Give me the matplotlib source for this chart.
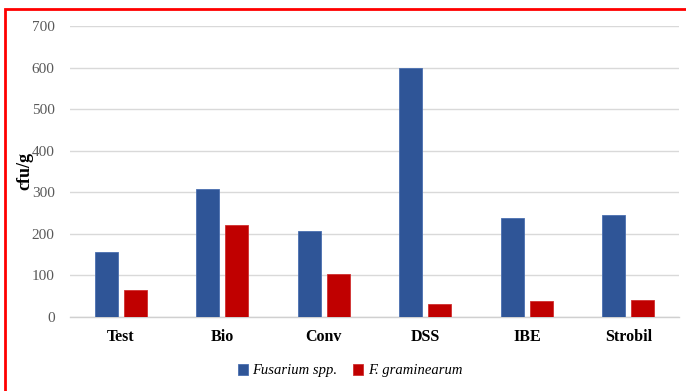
import numpy as np
import matplotlib
matplotlib.use("Agg")
import matplotlib.pyplot as plt
from matplotlib.patches import Rectangle

categories = ["Test", "Bio", "Conv", "DSS", "IBE", "Strobil"]
fusarium_spp = [157, 308, 206, 600, 238, 246]
f_graminearum = [64, 222, 103, 30, 38, 40]

plt.rcParams['font.family'] = ['Liberation Serif', 'DejaVu Serif']

fig = plt.figure(figsize=(6.86, 3.91), dpi=100)
ax = fig.add_axes([0.102, 0.19, 0.888, 0.7435])

x = np.arange(len(categories))
w = 0.227
off = 0.143
ax.bar(x - off, fusarium_spp, w, color="#2F5597", edgecolor="#4a6fb0",
       linewidth=0.6, label="Fusarium spp.", zorder=3)
ax.bar(x + off, f_graminearum, w, color="#C00000", edgecolor="#d03030",
       linewidth=0.6, label="F. graminearum", zorder=3)

ax.set_xlim(-0.5, len(categories) - 0.5)
ax.set_ylim(0, 700)
ax.set_yticks(range(0, 701, 100))
ax.grid(axis="y", color="#d9d9d9", linewidth=1.0, zorder=0)
for s in ["top", "right", "left"]:
    ax.spines[s].set_visible(False)
ax.spines["bottom"].set_color("#d0d0d0")
ax.spines["bottom"].set_linewidth(1.0)
ax.tick_params(length=0)
ax.tick_params(axis="y", labelsize=11, labelcolor="#595959", pad=11)
ax.set_xticks(x)
ax.set_xticklabels(categories, fontsize=11.5, fontweight="bold")
ax.tick_params(axis="x", pad=9)
ax.set_ylabel("cfu/g", fontsize=13, fontweight="bold")
ax.yaxis.set_label_coords(-0.06, 0.5)

leg = fig.legend(loc="center", bbox_to_anchor=(0.51, 0.052), ncol=2, frameon=False,
                 prop={"size": 10.5, "style": "italic"}, handlelength=0.7,
                 handleheight=0.75, handletextpad=0.3, columnspacing=1.1)

# red frame around the figure
fig.patches.append(Rectangle((4.5 / 686, -0.05), 1.2, 1 - 8.5 / 391 + 0.05,
                             transform=fig.transFigure, fill=False,
                             edgecolor="#ff0000", linewidth=2))

fig.savefig("out.png", dpi=100)
